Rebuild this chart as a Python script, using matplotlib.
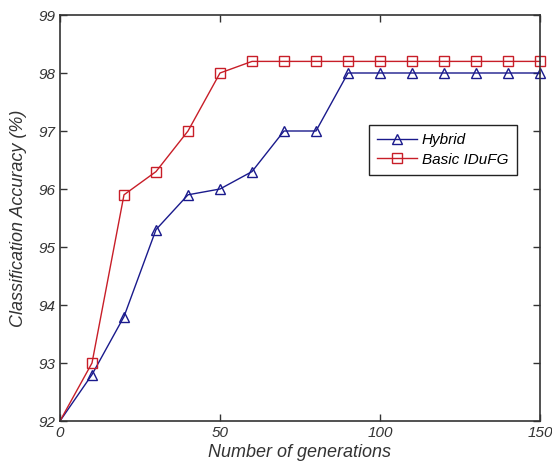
import matplotlib
matplotlib.use("Agg")
import matplotlib.pyplot as plt

generations = [0, 10, 20, 30, 40, 50, 60, 70, 80, 90, 100, 110, 120, 130, 140, 150]
hybrid = [92.0, 92.8, 93.8, 95.3, 95.9, 96.0, 96.3, 97.0, 97.0, 98.0, 98.0, 98.0, 98.0, 98.0, 98.0, 98.0]
basic = [92.0, 93.0, 95.9, 96.3, 97.0, 98.0, 98.2, 98.2, 98.2, 98.2, 98.2, 98.2, 98.2, 98.2, 98.2, 98.2]
xticks = [0, 50, 100, 150]
yticks = [92, 93, 94, 95, 96, 97, 98, 99]

plt.rcParams['font.family'] = ['Liberation Sans', 'DejaVu Sans']

fig = plt.figure(figsize=(5.52, 4.65), dpi=100)
ax = fig.add_axes([60/552, 44/465, 480/552, 406/465])

mk = list(range(1, len(generations)))
ax.plot(generations, hybrid, color='#1a1a8c', lw=1.0, marker='^', ms=7, markevery=mk,
        mfc='none', mec='#1a1a8c', mew=1.0, label='Hybrid', clip_on=False)
ax.plot(generations, basic, color='#c81e28', lw=1.0, marker='s', ms=7, markevery=mk,
        mfc='none', mec='#c81e28', mew=1.0, label='Basic IDuFG', clip_on=False)

ax.set_xlim(0, 150)
ax.set_ylim(92, 99)
ax.set_xticks(xticks)
ax.set_yticks(yticks)
ax.tick_params(direction='in', top=True, right=True, length=5, width=1.0,
               labelsize=11, colors='#333333', labelcolor='#333333')
for lab in ax.get_xticklabels() + ax.get_yticklabels():
    lab.set_fontstyle('italic')
for s in ax.spines.values():
    s.set_linewidth(1.2)
    s.set_color('#333333')

ax.set_xlabel('Number of generations', fontsize=13, fontstyle='italic', color='#333333', labelpad=3)
ax.set_ylabel('Classification Accuracy (%)', fontsize=13, fontstyle='italic', color='#333333', labelpad=8)

leg = ax.legend(loc='upper left', bbox_to_anchor=((369-60)/480, (421-125)/406),
                borderaxespad=0, prop={'style': 'italic', 'size': 11}, fancybox=False,
                framealpha=1, edgecolor='#222222', handlelength=2.6, borderpad=0.55,
                labelspacing=0.35, handletextpad=0.3)
leg.get_frame().set_linewidth(1.0)

fig.savefig('out.png', dpi=100)
